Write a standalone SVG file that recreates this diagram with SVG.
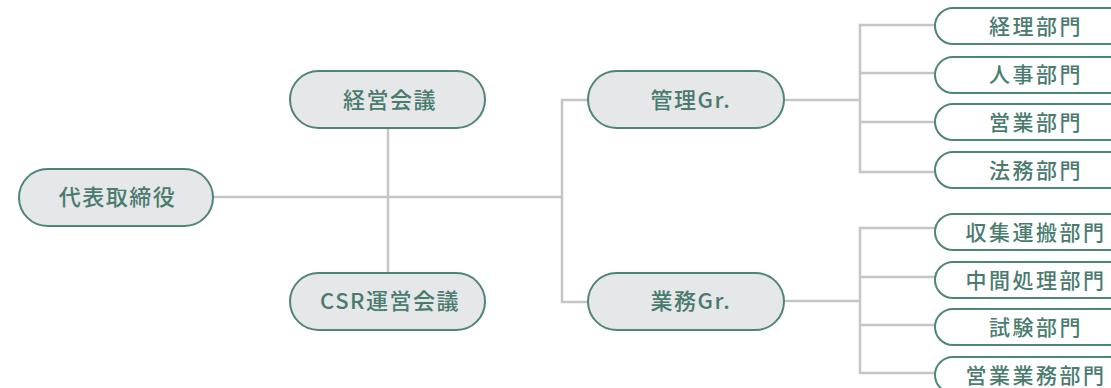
<svg xmlns="http://www.w3.org/2000/svg" width="1111" height="388" viewBox="0 0 1111 388">
<style>
.n{fill:#e6e7e8;stroke:#4f8579;stroke-width:2}
.d{fill:#ffffff;stroke:#4f8579;stroke-width:2}
.t{font-family:"Noto Sans CJK JP","Noto Sans",sans-serif;font-weight:500;fill:#4a7b6f;text-anchor:middle}
.m{font-size:22px;letter-spacing:1.5px}
.s{font-size:21px;letter-spacing:2.5px}
.c{fill:none;stroke:#c5c5c8;stroke-width:2.5}
</style>
<rect width="1111" height="388" fill="#ffffff"/>
<g id="connectors" class="c">
<path d="M213 197H562"/>
<path d="M388 128V273"/>
<path d="M588 100H562V302H588"/>
<path d="M784 100H860"/>
<path d="M784 301H860"/>
<path d="M935 25H860V172H935M860 73H935M860 122H935"/>
<path d="M935 228H860V373H935M860 277H935M860 325H935"/>
</g>
<g id="n-ceo"><rect class="n" x="19" y="169" width="194" height="57" rx="28.5"/><text class="t m" x="117.5" y="205">代表取締役</text></g>
<g id="n-keiei"><rect class="n" x="290" y="71" width="195" height="57" rx="28.5"/><text class="t m" x="390" y="108">経営会議</text></g>
<g id="n-csr"><rect class="n" x="290" y="273" width="195" height="57" rx="28.5"/><text class="t m" x="390" y="309">CSR運営会議</text></g>
<g id="n-kanri"><rect class="n" x="588" y="71" width="196" height="57" rx="28.5"/><text class="t m" x="691" y="108">管理Gr.</text></g>
<g id="n-gyomu"><rect class="n" x="588" y="273" width="196" height="57" rx="28.5"/><text class="t m" x="691" y="309">業務Gr.</text></g>
<g id="d1"><rect class="d" x="935" y="8" width="300" height="36" rx="18"/><text class="t s" x="1036" y="34">経理部門</text></g>
<g id="d2"><rect class="d" x="935" y="57" width="300" height="36" rx="18"/><text class="t s" x="1036" y="82">人事部門</text></g>
<g id="d3"><rect class="d" x="935" y="104" width="300" height="36" rx="18"/><text class="t s" x="1036" y="130">営業部門</text></g>
<g id="d4"><rect class="d" x="935" y="152" width="300" height="36" rx="18"/><text class="t s" x="1036" y="178">法務部門</text></g>
<g id="d5"><rect class="d" x="935" y="214" width="300" height="36" rx="18"/><text class="t s" x="1036" y="240">収集運搬部門</text></g>
<g id="d6"><rect class="d" x="935" y="262" width="300" height="36" rx="18"/><text class="t s" x="1036" y="288">中間処理部門</text></g>
<g id="d7"><rect class="d" x="935" y="309" width="300" height="36" rx="18"/><text class="t s" x="1036" y="335">試験部門</text></g>
<g id="d8"><rect class="d" x="935" y="357" width="300" height="36" rx="18"/><text class="t s" x="1036" y="383">営業業務部門</text></g>
</svg>
